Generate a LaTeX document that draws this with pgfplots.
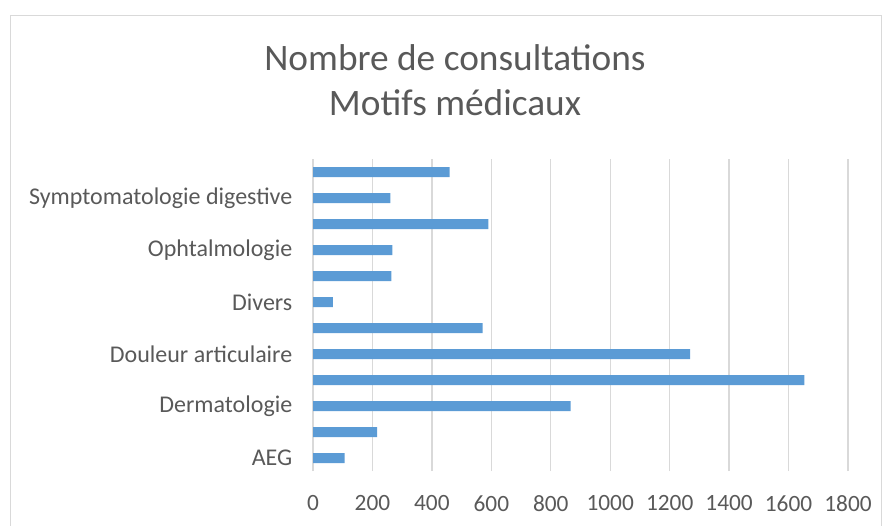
\documentclass[border=0pt]{standalone}
\usepackage{pgfplots}
\pgfplotsset{compat=1.18}
\usepackage{fontspec}
\setmainfont{Carlito}
\definecolor{barc}{HTML}{5B9BD5}
\definecolor{txt}{HTML}{595959}
\definecolor{gridc}{HTML}{D9D9D9}
\begin{document}
\begin{tikzpicture}
\useasboundingbox (0,0) rectangle (663.75pt,-393.75pt);
\draw[gridc, line width=0.75pt] (7.5pt,-11.25pt) rectangle (660.75pt,-400pt);
\node[txt, font=\fontsize{28}{33}\selectfont] at (341.25pt,-43.5pt) {Nombre de consultations};
\node[txt, font=\fontsize{28}{33}\selectfont] at (341.25pt,-77.25pt) {Motifs médicaux};
\begin{axis}[
  at={(234.75pt,-353.25pt)}, anchor=south west,
  scale only axis, width=401.25pt, height=234pt,
  xbar, bar width=7.5pt,
  xmin=0, xmax=1800, ymin=-0.5, ymax=11.5,
  enlargelimits=false,
  xtick={0,200,...,1800},
  ytick={0,2,4,6,8,10},
  yticklabels={AEG,Dermatologie,Douleur articulaire,Divers,Ophtalmologie,Symptomatologie digestive},
  xmajorgrids, grid style={gridc, line width=1pt},
  axis line style={draw=none},
  major tick length=0pt,
  /pgf/number format/assume math mode=true,
  /pgf/number format/1000 sep={},
  tick label style={txt},
  xticklabel style={font=\fontsize{17.5}{21}\selectfont, yshift=-15pt},
  yticklabel style={font=\fontsize{18}{21}\selectfont, xshift=-12pt},
]
\addplot[fill=barc, draw=none] coordinates {
(106,0) (216,1) (867,2) (1653,3) (1269,4) (571,5) (67,6) (264,7) (267,8) (590,9) (260,10) (460,11)
};
\end{axis}
\end{tikzpicture}
\end{document}
